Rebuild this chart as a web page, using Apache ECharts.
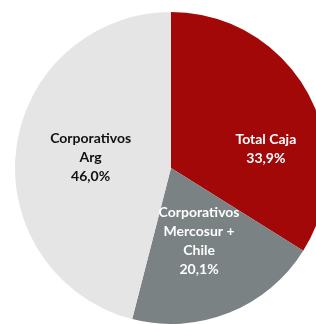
<!DOCTYPE html>
<html>
<head>
<meta charset="utf-8">
<script src="https://cdn.jsdelivr.net/npm/echarts@6/dist/echarts.min.js"></script>
<style>
  html, body { margin: 0; padding: 0; background: #fff; }
  #chart { width: 316px; height: 324px; }
</style>
</head>
<body>
<div id="chart"></div>
<script>
// slices, clockwise from 12 o'clock
const names = ["Total Caja", "Corporativos\nMercosur +\nChile", "Corporativos\nArg"];
const values = [33.9, 20.1, 46.0];
const labels = ["33,9%", "20,1%", "46,0%"];

const colors = ["#a30808", "#7b8283", "#e5e5e5"];
const textColors = ["#fff", "#fff", "#111"];
const offsets = [[24, 20], [-2, -2], [0, 0]];

const chart = echarts.init(document.getElementById("chart"));

chart.setOption({
  animation: false,
  series: [
    {
      type: "pie",
      center: [171, 168],
      radius: [0, 156],
      startAngle: 90,
      clockwise: true,
      silent: true,
      data: names.map((n, i) => ({
        name: n,
        value: values[i],
        itemStyle: { color: colors[i] },
        label: {
          color: textColors[i],
          offset: offsets[i],
          formatter: () => n + "\n" + labels[i],
        },
      })),
      label: {
        show: true,
        position: "inside",
        fontFamily: "Lato",
        fontWeight: "bold",
        fontSize: 14,
        lineHeight: 19,
        align: "center",
      },
      labelLine: { show: false },
    },
  ],
});
</script>
</body>
</html>
